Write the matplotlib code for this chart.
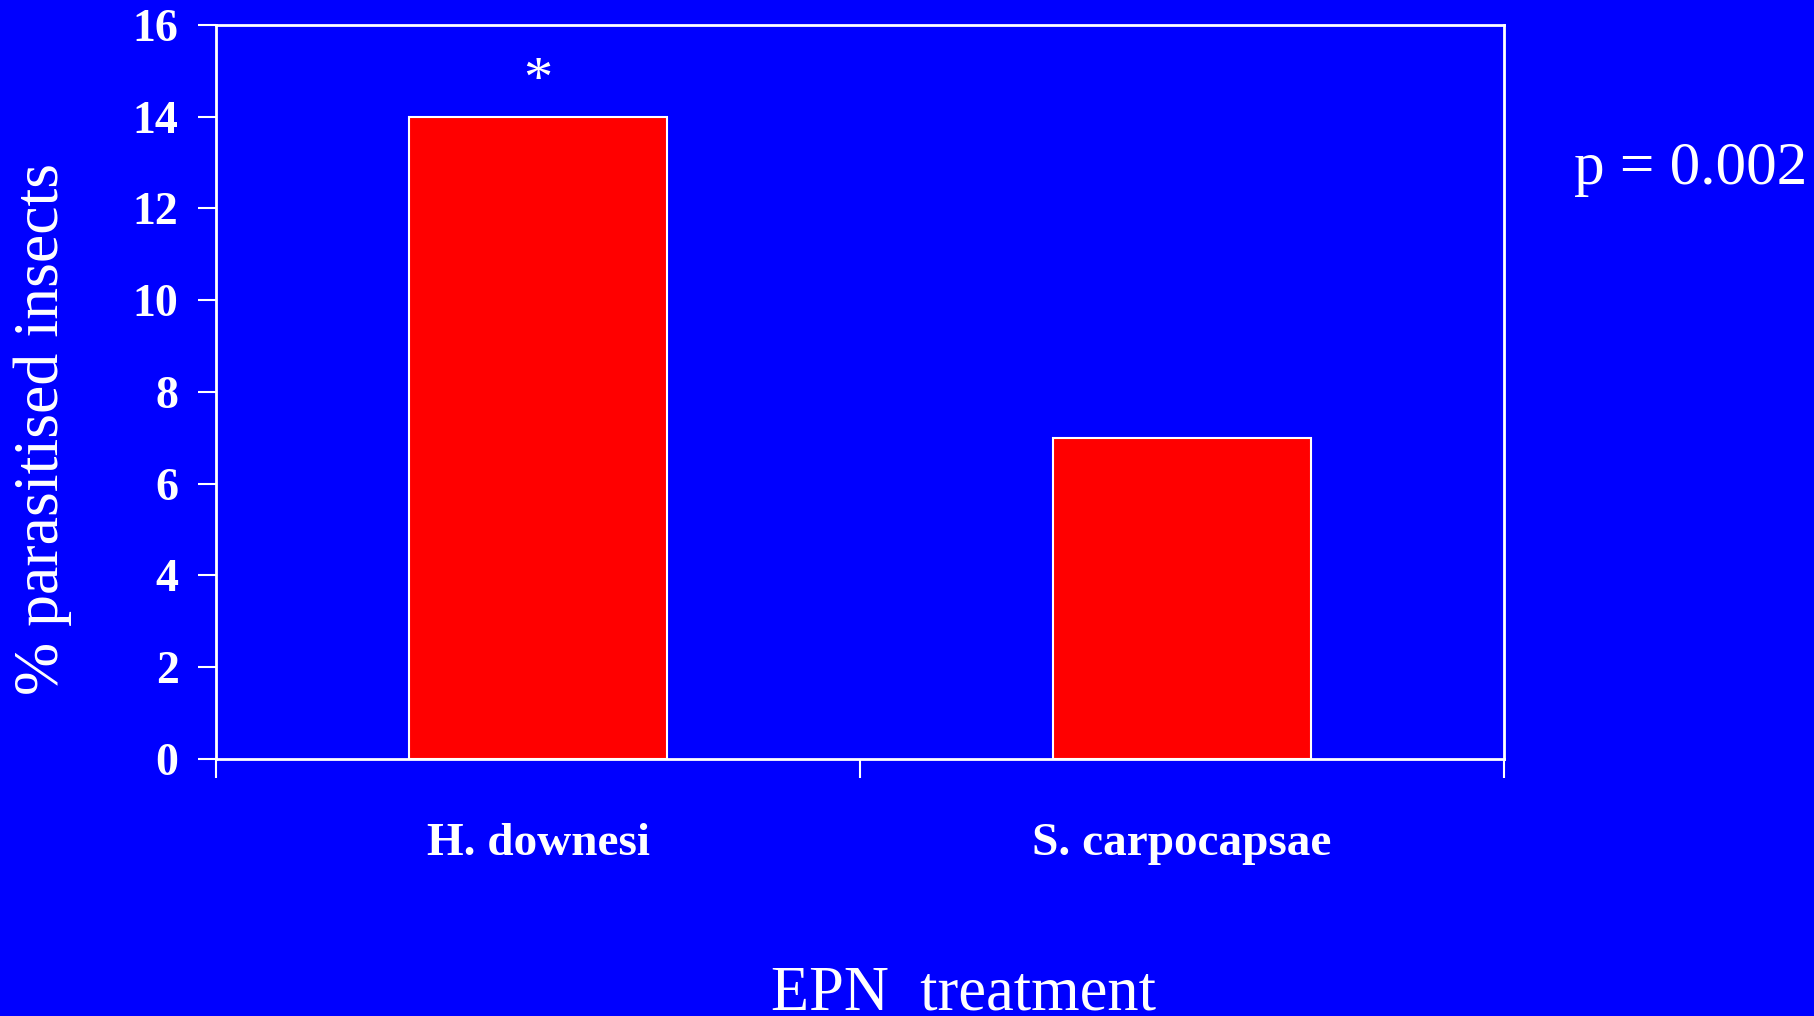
import numpy as np
import matplotlib
matplotlib.use("Agg")
import matplotlib.pyplot as plt

# data
species = ["H. downesi", "S. carpocapsae"]
parasitised = [14, 7]
yticks = [0, 2, 4, 6, 8, 10, 12, 14, 16]

blue = "#0000FF"
red = "#FF0000"
serif = ["Liberation Serif", "DejaVu Serif"]

fig = plt.figure(figsize=(18.14, 10.16), dpi=100, facecolor=blue)
ax = fig.add_axes([0.1191, 0.2530, 0.7100, 0.7224])
ax.set_facecolor(blue)

pos = np.arange(len(species)) + 0.5
ax.bar(pos, parasitised, width=0.4, color=red, edgecolor="white", linewidth=1.5, zorder=3)

ax.set_xlim(0, len(species))
ax.set_ylim(0, 16)

for s in ax.spines.values():
    s.set_color("white")
    s.set_linewidth(2)

# major x ticks are just the category boundaries, labels sit on minor ticks
ax.set_xticks(np.arange(len(species) + 1))
ax.set_xticklabels([])
ax.set_xticks(pos, minor=True)
ax.set_xticklabels(species, minor=True, fontfamily=serif, fontweight="bold",
                   fontsize=34, color="white")
ax.tick_params(axis="x", which="major", direction="out", length=14, width=1.5, color="white")
ax.tick_params(axis="x", which="minor", length=0, pad=46)

ax.set_yticks(yticks)
ax.set_yticklabels([str(v) for v in yticks], fontfamily=serif, fontweight="bold",
                   fontsize=33, color="white")
ax.tick_params(axis="y", direction="out", length=13, width=1.5, color="white", pad=14)

ax.set_ylabel("% parasitised insects", fontfamily=serif, fontsize=46, color="white")
ax.yaxis.set_label_coords(-0.112, 0.45)

fig.text(0.531, 0.021, "EPN  treatment", fontfamily=serif, fontsize=45, color="white",
         ha="center", va="center")
fig.text(0.9965, 0.833, "p = 0.002", fontfamily=serif, fontsize=44, color="white",
         ha="right", va="center")

ax.text(pos[0], 14.75, "*", fontfamily=serif, fontsize=42, color="white",
        ha="center", va="center")

fig.savefig("out.png", dpi=100, facecolor=blue)
